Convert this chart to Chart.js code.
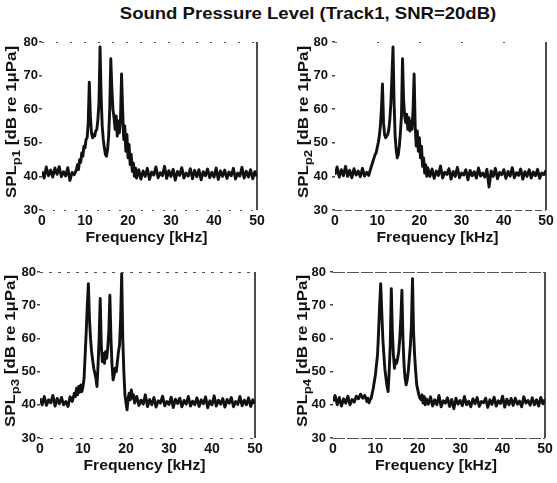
<!DOCTYPE html>
<html>
<head>
<meta charset="utf-8">
<script src="https://cdn.jsdelivr.net/npm/chart.js@4.4.1/dist/chart.umd.min.js"></script>
<style>
body { margin: 0; background: #fff; }
#page { position: relative; width: 557px; height: 483px; overflow: hidden; }
#title { position: absolute; top: 4px; left: 308px; transform: translateX(-50%) scaleX(1.09); white-space: nowrap;
  font: bold 17px "Liberation Sans", Arial, sans-serif; line-height: 20px; color: #111; }
canvas { position: absolute; }
</style>
</head>
<body>
<div id="page">
  <div id="title">Sound Pressure Level (Track1, SNR=20dB)</div>
  <canvas id="c1"></canvas>
  <canvas id="c2"></canvas>
  <canvas id="c3"></canvas>
  <canvas id="c4"></canvas>
</div>
<script>
// frequency in kHz (finer spacing around the tones)
const freq = [0,0.5,1,1.5,2,2.5,3,3.5,4,4.5,5,5.5,6,6.5,7,7.5,8,
  8.25,8.5,8.75,9,9.25,9.5,9.75,10,
  10.25,10.5,10.75,11,11.25,11.5,11.75,12,
  12.25,12.5,12.75,13,13.25,13.5,13.75,14,
  14.25,14.5,14.75,15,15.25,15.5,15.75,16,
  16.25,16.5,16.75,17,17.25,17.5,17.75,18,
  18.25,18.5,18.75,19,19.25,19.5,19.75,20,
  20.25,20.5,20.75,21,21.25,21.5,21.75,22,
  22.5,23,23.5,24,24.5,25,25.5,26,26.5,27,
  27.5,28,28.5,29,29.5,30,30.5,31,31.5,32,
  32.5,33,33.5,34,34.5,35,35.5,36,36.5,37,
  37.5,38,38.5,39,39.5,40,40.5,41,41.5,42,
  42.5,43,43.5,44,44.5,45,45.5,46,46.5,47,
  47.5,48,48.5,49,49.5,50];

// SPL in dB re 1uPa
const splP1 = [41.5,39.5,42.8,40.2,41.9,39.8,42.5,40.6,42.9,39.9,41.4,40.1,42.6,38.8,41.2,40.5,42.0,
  43.5,42.0,45.0,44.2,47.0,46.0,49.0,48.5,
  51.0,51.5,56.0,68.0,58.0,53.0,51.5,52.5,
  52.0,53.5,54.0,57.0,62.0,78.5,64.0,55.0,
  51.0,48.5,46.5,46.0,48.0,52.0,60.0,75.0,
  66.0,60.0,57.5,54.0,58.0,52.0,56.5,53.0,
  57.0,70.5,60.0,51.0,55.0,47.5,52.5,45.5,
  49.5,43.5,46.5,41.5,44.0,40.0,42.5,39.5,
  42.0,39.2,41.6,40.0,42.4,39.1,41.3,40.4,42.8,39.6,
  41.1,40.2,43.0,39.4,41.7,40.0,42.1,38.9,41.5,40.3,
  42.6,39.5,41.0,40.1,42.3,39.3,41.8,39.9,42.0,39.0,
  41.4,40.2,42.2,39.6,41.2,39.8,42.5,39.1,41.6,40.0,
  41.9,39.4,41.3,40.2,42.4,39.2,41.0,40.1,42.7,39.5,
  41.5,39.8,42.0,39.3,41.4,40.0];

const splP2 = [40.5,42.8,39.8,42.0,40.2,43.0,40.0,41.8,39.6,42.3,40.4,41.6,39.9,42.4,40.1,41.2,40.3,
  41.5,42.5,43.5,44.5,45.5,46.5,47.0,48.5,
  50.0,52.0,55.0,60.0,67.5,56.0,52.5,51.5,
  52.0,52.5,54.0,57.0,62.0,70.0,78.5,62.0,
  52.0,48.0,45.5,46.5,49.0,53.0,58.0,75.0,
  63.0,58.0,56.0,58.5,54.0,57.5,53.5,56.5,
  54.0,60.0,70.5,55.0,49.0,53.5,47.5,51.5,
  45.5,49.0,43.0,45.5,41.0,43.5,40.0,42.5,
  40.0,42.2,39.4,41.6,40.3,43.1,39.5,41.2,40.6,42.3,
  39.2,41.5,40.0,42.7,39.6,41.0,40.4,42.0,39.0,41.8,
  40.2,41.4,39.5,42.5,40.1,41.0,39.8,42.1,36.8,41.6,
  40.0,42.4,39.3,41.2,40.5,42.0,39.4,41.5,40.1,42.6,
  39.6,41.1,40.3,42.2,39.2,41.4,40.0,42.0,39.5,41.3,
  40.2,42.1,39.4,41.0,40.5,41.8];

const splP3 = [42.0,40.0,42.5,39.8,41.5,40.6,42.8,39.6,41.9,40.3,42.2,40.0,41.0,39.5,42.4,41.0,43.5,
  42.5,45.0,43.0,45.5,43.8,46.0,44.0,45.5,
  48.0,55.0,62.0,70.0,76.5,66.0,60.0,56.0,
  53.5,51.0,49.5,48.0,45.5,52.0,60.0,72.0,
  58.0,53.0,55.5,52.5,56.0,54.0,57.0,62.0,
  73.0,60.0,52.0,47.5,49.0,51.0,50.0,53.0,
  56.0,58.0,66.0,79.5,60.0,50.0,43.0,40.5,
  38.5,42.0,43.5,41.5,44.5,42.0,43.0,40.5,
  42.5,39.8,41.4,40.2,43.0,39.5,41.6,40.0,42.2,39.3,
  41.2,40.5,42.6,39.7,41.0,40.1,42.3,39.2,41.7,40.4,
  42.0,39.4,41.3,40.2,42.5,39.6,41.1,40.0,42.1,39.5,
  41.5,40.3,42.4,39.1,41.2,40.0,42.7,39.6,41.4,40.2,
  41.9,39.3,41.6,40.5,42.2,39.4,41.0,40.1,42.5,39.7,
  41.4,40.0,42.1,39.5,41.5,40.3];

const splP4 = [41.0,42.8,40.0,42.2,39.6,41.8,40.5,42.6,40.0,41.6,40.8,42.6,41.8,43.2,42.0,42.8,41.0,
  42.0,40.6,41.5,42.0,43.5,45.0,47.0,49.0,
  52.0,55.0,62.0,70.0,76.5,68.0,60.0,55.0,
  50.5,48.0,45.5,44.0,50.0,58.0,75.0,62.0,
  55.0,51.0,53.5,52.5,54.0,56.0,60.0,66.0,
  74.5,60.0,52.0,48.0,46.0,47.5,50.0,54.0,
  58.0,64.0,78.0,62.0,55.0,50.0,46.0,44.5,
  43.0,42.0,41.5,43.0,40.5,42.5,40.0,41.8,
  40.2,42.4,39.6,41.5,40.0,42.8,39.4,41.2,40.5,42.1,
  39.5,41.6,38.8,42.0,40.2,41.3,39.7,42.5,40.0,41.1,
  39.4,41.8,40.3,42.2,39.5,41.0,40.6,42.0,39.2,41.5,
  40.1,42.3,39.6,41.2,40.4,42.6,39.3,41.7,40.0,41.9,
  39.8,42.0,40.2,41.1,39.4,42.4,40.5,41.3,39.9,42.1,
  40.0,41.5,39.6,42.2,40.3,41.6];

const subs = ['p1', 'p2', 'p3', 'p4'];
const xTicks = [0, 10, 20, 30, 40, 50];
const yTicks = [30, 40, 50, 60, 70, 80];

const FONT = '"Liberation Sans", Arial, sans-serif';
const INK = '#111';

// canvas box and plot area (page px) for each panel
const panels = [
  { id: 'c1', vals: splP1, sub: subs[0], c: { x: 0, y: 20, w: 275, h: 225 }, a: { l: 42, t: 42, r: 257, b: 210 },
    yTx: 12, xTy: 238, gap: 1, topDash: [2, 12], botDash: [2, 9] },
  { id: 'c2', vals: splP2, sub: subs[1], c: { x: 278, y: 20, w: 279, h: 225 }, a: { l: 335, t: 42, r: 546, b: 210 },
    yTx: 304, xTy: 238, gap: 4, topDash: [2, 40], botDash: [7, 3] },
  { id: 'c3', vals: splP3, sub: subs[2], c: { x: 0, y: 250, w: 275, h: 233 }, a: { l: 40, t: 272, r: 255, b: 438 },
    yTx: 11, xTy: 466, gap: 1, topDash: [3, 6], botDash: [3, 7] },
  { id: 'c4', vals: splP4, sub: subs[3], c: { x: 278, y: 250, w: 279, h: 233 }, a: { l: 333, t: 272, r: 545, b: 438 },
    yTx: 303, xTy: 466, gap: 4, topDash: [12, 2], botDash: [12, 2] }
];

function framePlugin(p) {
  return {
    id: 'frame',
    afterDraw(chart) {
      const ctx = chart.ctx;
      const ca = chart.chartArea;
      ctx.save();
      // right edge solid, top and bottom faint
      ctx.strokeStyle = INK;
      ctx.lineWidth = 1.5;
      ctx.beginPath();
      ctx.moveTo(ca.right, ca.top);
      ctx.lineTo(ca.right, ca.bottom);
      ctx.stroke();
      ctx.strokeStyle = '#555';
      ctx.lineWidth = 1;
      ctx.setLineDash(p.topDash);
      ctx.beginPath();
      ctx.moveTo(ca.left, ca.top + 0.5);
      ctx.lineTo(ca.right, ca.top + 0.5);
      ctx.stroke();
      ctx.setLineDash(p.botDash);
      ctx.beginPath();
      ctx.moveTo(ca.left, ca.bottom + 0.5);
      ctx.lineTo(ca.right, ca.bottom + 0.5);
      ctx.stroke();
      ctx.setLineDash([]);
      ctx.restore();

      ctx.save();
      ctx.fillStyle = INK;
      ctx.textBaseline = 'middle';
      // x title, stretched to the scanned width
      ctx.font = 'bold 14px ' + FONT;
      ctx.textAlign = 'center';
      const xw = ctx.measureText('Frequency [kHz]').width;
      ctx.translate((ca.left + ca.right) / 2 - 3, p.xTy - p.c.y);
      ctx.scale(122 / xw, 1);
      ctx.fillText('Frequency [kHz]', 0, 0);
      ctx.restore();

      // y title with subscript
      ctx.save();
      ctx.fillStyle = INK;
      ctx.textBaseline = 'middle';
      ctx.textAlign = 'left';
      const big = 'bold 14px ' + FONT;
      const small = 'bold 11px ' + FONT;
      const rest = ' [dB re 1\u03bcPa]';
      ctx.font = big;
      const w1 = ctx.measureText('SPL').width;
      const w3 = ctx.measureText(rest).width;
      ctx.font = small;
      const w2 = ctx.measureText(p.sub).width;
      const total = w1 + w2 + w3;
      ctx.translate(p.yTx - p.c.x, (ca.top + ca.bottom) / 2 - 4);
      ctx.rotate(-Math.PI / 2);
      ctx.scale(152 / total, 1);
      let x = -total / 2;
      ctx.font = big;
      ctx.fillText('SPL', x, 0);
      x += w1;
      ctx.font = small;
      ctx.fillText(p.sub, x, 5);
      x += w2;
      ctx.font = big;
      ctx.fillText(rest, x, 0);
      ctx.restore();
    }
  };
}

panels.forEach(p => {
  const el = document.getElementById(p.id);
  el.width = p.c.w;
  el.height = p.c.h;
  el.style.left = p.c.x + 'px';
  el.style.top = p.c.y + 'px';

  new Chart(el, {
    type: 'line',
    data: {
      datasets: [{
        data: freq.map((f, i) => ({ x: f, y: p.vals[i] })),
        borderColor: INK,
        borderWidth: 2.9,
        borderJoinStyle: 'round',
        pointRadius: 0,
        tension: 0,
        fill: false
      }]
    },
    options: {
      responsive: false,
      animation: false,
      devicePixelRatio: 1,
      layout: { padding: { top: p.a.t - p.c.y, right: p.c.x + p.c.w - p.a.r, left: 0, bottom: 0 } },
      plugins: { legend: { display: false }, tooltip: { enabled: false } },
      scales: {
        x: {
          type: 'linear', min: 0, max: 50,
          afterBuildTicks: s => { s.ticks = xTicks.map(v => ({ value: v })); },
          ticks: { color: INK, font: { family: FONT, size: 14, weight: 'bold' }, padding: 3, maxRotation: 0 },
          grid: { display: false, drawTicks: false },
          border: { display: false },
          afterFit: s => { s.height = p.c.y + p.c.h - p.a.b; }
        },
        y: {
          min: 30, max: 80,
          afterBuildTicks: s => { s.ticks = yTicks.map(v => ({ value: v })); },
          ticks: { color: INK, font: { family: FONT, size: 13, weight: 'bold' }, padding: p.gap },
          grid: { display: true, drawOnChartArea: false, tickLength: 3, color: '#444', lineWidth: 1.5 },
          border: { display: false },
          afterFit: s => { s.width = p.a.l - p.c.x; }
        }
      }
    },
    plugins: [framePlugin(p)]
  });
});
</script>
</body>
</html>
